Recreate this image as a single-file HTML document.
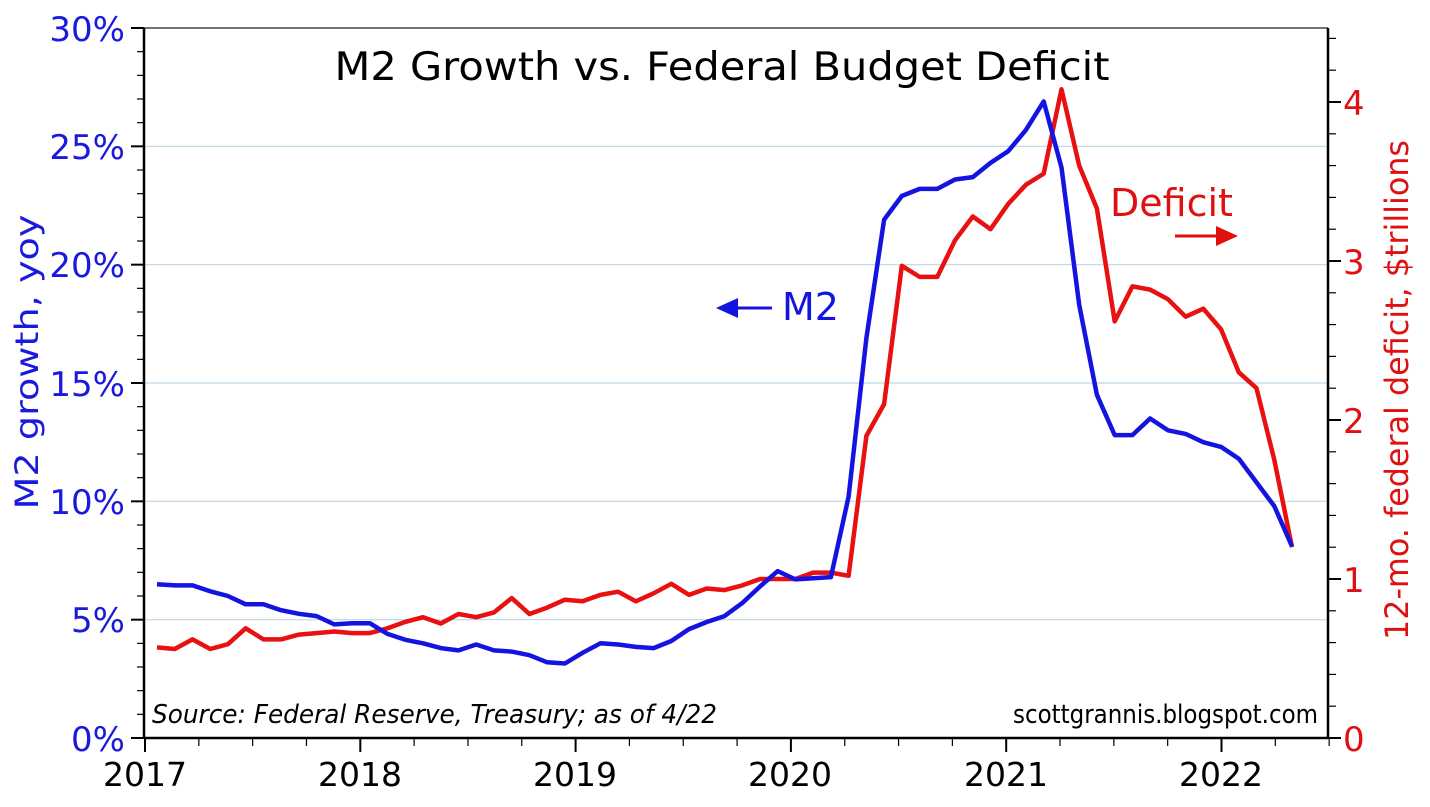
<!DOCTYPE html>
<html><head><meta charset="utf-8">
<style>
html,body{margin:0;padding:0;background:#fff;}
svg{display:block;font-family:"DejaVu Sans","Liberation Sans",sans-serif;}
</style></head>
<body>
<svg id="c" width="1430" height="807" viewBox="0 0 1430 807" xmlns="http://www.w3.org/2000/svg">
<rect width="1430" height="807" fill="#fff"/>
<g id="grid"></g>
<g id="ticks"></g>
<polyline id="def" fill="none" stroke="#e81010" stroke-width="4.5" stroke-linejoin="round"/>
<polyline id="m2" fill="none" stroke="#1414e0" stroke-width="4.5" stroke-linejoin="round"/>
<line x1="144" y1="28" x2="1328" y2="28" stroke="#444" stroke-width="1.5"/>
<line x1="144" y1="28" x2="144" y2="738" stroke="#000" stroke-width="2.5"/>
<line x1="1328" y1="28" x2="1328" y2="738" stroke="#000" stroke-width="2.5"/>
<line x1="144" y1="738" x2="1328" y2="738" stroke="#000" stroke-width="2.5"/>
<text x="722" y="80" font-size="39" text-anchor="middle" fill="#000" textLength="775" lengthAdjust="spacingAndGlyphs">M2 Growth vs. Federal Budget Deficit</text>
<g font-size="34" fill="#1a1adf" text-anchor="end">
<text x="125" y="41">30%</text><text x="125" y="159">25%</text><text x="125" y="277">20%</text>
<text x="125" y="396">15%</text><text x="125" y="514">10%</text><text x="125" y="632">5%</text><text x="125" y="751">0%</text>
</g>
<g font-size="34" fill="#e01010">
<text x="1343" y="115">4</text><text x="1343" y="274">3</text><text x="1343" y="433">2</text>
<text x="1343" y="592">1</text><text x="1343" y="751">0</text>
</g>
<g font-size="33" fill="#000" text-anchor="middle">
<text x="145" y="786">2017</text><text x="360" y="786">2018</text><text x="575" y="786">2019</text>
<text x="790" y="786">2020</text><text x="1006" y="786">2021</text><text x="1221" y="786">2022</text>
</g>
<text transform="translate(38,362) rotate(-90)" font-size="32" fill="#1a1adf" text-anchor="middle" textLength="295" lengthAdjust="spacingAndGlyphs">M2 growth, yoy</text>
<text transform="translate(1408,390) rotate(-90)" font-size="32" fill="#e01010" text-anchor="middle" textLength="500" lengthAdjust="spacingAndGlyphs">12-mo. federal deficit, $trillions</text>
<text x="152" y="723" font-size="26" font-style="italic" fill="#000" textLength="565" lengthAdjust="spacingAndGlyphs">Source: Federal Reserve, Treasury; as of 4/22</text>
<text x="1318" y="723" font-size="26" fill="#000" text-anchor="end" textLength="305" lengthAdjust="spacingAndGlyphs">scottgrannis.blogspot.com</text>
<text x="782" y="320" font-size="38" fill="#1414e0">M2</text>
<line x1="735" y1="308" x2="772" y2="308" stroke="#1414e0" stroke-width="3"/>
<polygon points="716,308 738,298 738,318" fill="#1414e0"/>
<text x="1110" y="216" font-size="38" fill="#e01010">Deficit</text>
<line x1="1175" y1="236" x2="1218" y2="236" stroke="#e01010" stroke-width="3"/>
<polygon points="1238,236 1216,226 1216,246" fill="#e01010"/>
</svg>
<script>
var m2=[6.5,6.45,6.45,6.2,6.0,5.65,5.65,5.4,5.25,5.15,4.8,4.85,
4.85,4.4,4.15,4.0,3.8,3.7,3.95,3.7,3.65,3.5,3.2,3.15,
3.6,4.0,3.95,3.85,3.8,4.1,4.6,4.9,5.15,5.7,6.4,7.05,
6.7,6.75,6.8,10.2,16.9,21.9,22.9,23.2,23.2,23.6,23.7,24.3,
24.8,25.7,26.9,24.1,18.3,14.5,12.8,12.8,13.5,13.0,12.85,12.5,
12.3,11.8,10.8,9.8,8.1];
var df=[0.57,0.56,0.62,0.56,0.59,0.69,0.62,0.62,0.65,0.66,0.67,0.66,
0.66,0.69,0.73,0.76,0.72,0.78,0.76,0.79,0.88,0.78,0.82,0.87,
0.86,0.90,0.92,0.86,0.91,0.97,0.90,0.94,0.93,0.96,1.0,1.0,
1.0,1.04,1.04,1.02,1.9,2.1,2.97,2.9,2.9,3.13,3.28,3.2,
3.36,3.48,3.55,4.08,3.6,3.33,2.62,2.84,2.82,2.76,2.65,2.7,
2.57,2.3,2.2,1.75,1.2];
function X(i){return 157+i*(1292-157)/64;}
document.getElementById('m2').setAttribute('points',m2.map(function(v,i){return X(i).toFixed(1)+','+(738-v*710/30).toFixed(1)}).join(' '));
document.getElementById('def').setAttribute('points',df.map(function(v,i){return X(i).toFixed(1)+','+(738-v*159).toFixed(1)}).join(' '));
var ns='http://www.w3.org/2000/svg',g=document.getElementById('grid'),t=document.getElementById('ticks');
function L(p,x1,y1,x2,y2,c,w){var l=document.createElementNS(ns,'line');l.setAttribute('x1',x1);l.setAttribute('y1',y1);l.setAttribute('x2',x2);l.setAttribute('y2',y2);l.setAttribute('stroke',c);l.setAttribute('stroke-width',w);p.appendChild(l);}
for(var k=1;k<6;k++){var y=738-k*5*710/30;L(g,144,y,1328,y,'#bcd6e6',1.2);}
for(var k=0;k<=30;k++){var y=738-k*710/30;L(t,k%5==0?131:137,y,144,y,'#000',k%5==0?2:1.2);}
for(var k=0;k<=22;k++){var y=738-k*0.2*159;if(y<28)break;L(t,1328,y,k%5==0?1341:1336,y,'#000',k%5==0?2:1.2);}
for(var q=0;q<=22;q++){var x=145+q*215.3/4;if(x>1330)break;L(t,x,738,x,q%4==0?752:746,'#000',q%4==0?2:1.2);}
</script>
</body></html>
